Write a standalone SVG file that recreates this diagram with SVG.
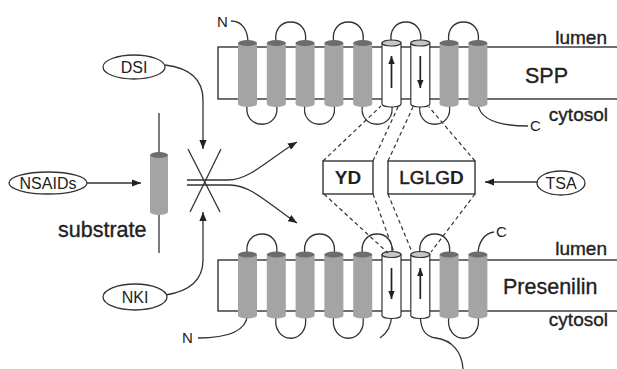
<svg xmlns="http://www.w3.org/2000/svg" xmlns:xlink="http://www.w3.org/1999/xlink" width="617" height="369" viewBox="0 0 617 369">
<style>
text{font-family:"Liberation Sans",Arial,sans-serif;fill:#222}
.big{font-size:21.5px;stroke:#222;stroke-width:0.35}
.mem{font-size:19px;stroke:#222;stroke-width:0.35}
.sm{font-size:16px}
.term{font-size:15px}
.box{fill:#fff;stroke:#333;stroke-width:1.4}
.ln{fill:none;stroke:#333;stroke-width:1.3}
.arr{fill:none;stroke:#222;stroke-width:1.7}
.dash{fill:none;stroke:#333;stroke-width:1.2;stroke-dasharray:4 3}
.ell{fill:#fff;stroke:#333;stroke-width:1.3}
.hg{fill:#a4a4a4}
.hcap{fill:#6c6c6c}
.hw{fill:#fff;stroke:#333;stroke-width:1.2}
.hwcap{fill:#c6c6c6;stroke:#333;stroke-width:1.2}
</style>
<defs>
<marker id="ah" viewBox="0 0 10 8" refX="10" refY="4" markerWidth="9" markerHeight="7.2" markerUnits="userSpaceOnUse" orient="auto"><path d="M0,0 L10,4 L0,8 Z" fill="#222"/></marker>
<marker id="ahs" viewBox="0 0 10 8" refX="10" refY="4" markerWidth="8" markerHeight="6.4" markerUnits="userSpaceOnUse" orient="auto"><path d="M0,0 L10,4 L0,8 Z" fill="#222"/></marker>
<g id="hx"><path class="hg" d="M-9.5,0 L-9.5,61 A9.5,3 0 0 0 9.5,61 L9.5,0 Z"/><ellipse class="hcap" cx="0" cy="0" rx="9.5" ry="3"/></g>
<g id="hxw"><path class="hw" d="M-9.5,0 L-9.5,61 A9.5,3 0 0 0 9.5,61 L9.5,0 Z"/><ellipse class="hwcap" cx="0" cy="0" rx="9.5" ry="3"/></g>
</defs>
<rect width="617" height="369" fill="#fff"/>

<g id="spp">
<rect class="box" x="218" y="47" width="420" height="52"/>
<path class="ln" d="M231,21 C242,21 248,30 248,43"/>
<path class="ln" d="M276.3,43 C270.3,15 311.1,15 305.1,43"/>
<path class="ln" d="M333.9,43 C327.9,15 368.7,15 362.7,43"/>
<path class="ln" d="M391.5,43 C385.5,15 426.3,15 420.3,43"/>
<path class="ln" d="M449.1,43 C443.1,15 483.9,15 477.9,43"/>
<path class="ln" d="M247.5,104 C241.5,131 282.3,131 276.3,104"/>
<path class="ln" d="M305.1,104 C299.1,131 339.9,131 333.9,104"/>
<path class="ln" d="M362.7,104 C356.7,131 397.5,131 391.5,104"/>
<path class="ln" d="M420.3,104 C414.3,131 455.1,131 449.1,104"/>
<path class="ln" d="M477.9,104 C480,120 500,126 528,126"/>
<use xlink:href="#hx" x="247.5" y="43"/>
<use xlink:href="#hx" x="276.3" y="43"/>
<use xlink:href="#hx" x="305.1" y="43"/>
<use xlink:href="#hx" x="333.9" y="43"/>
<use xlink:href="#hx" x="362.7" y="43"/>
<use xlink:href="#hxw" x="391.5" y="43"/>
<use xlink:href="#hxw" x="420.3" y="43"/>
<use xlink:href="#hx" x="449.1" y="43"/>
<use xlink:href="#hx" x="477.9" y="43"/>
<line class="arr" x1="391.5" y1="88" x2="391.5" y2="56" marker-end="url(#ahs)"/>
<line class="arr" x1="420.3" y1="56" x2="420.3" y2="88" marker-end="url(#ahs)"/>
<text class="term" x="217" y="27">N</text>
<text class="term" x="530" y="131">C</text>
<text class="mem" x="607" y="44" text-anchor="end">lumen</text>
<text class="big" x="525" y="83">SPP</text>
<text class="mem" x="608" y="121" text-anchor="end">cytosol</text>
</g>

<g id="presenilin">
<rect class="box" x="218" y="260" width="420" height="51"/>
<path class="ln" d="M247.5,255 C241.5,227 282.3,227 276.3,255"/>
<path class="ln" d="M305.1,255 C299.1,227 339.9,227 333.9,255"/>
<path class="ln" d="M362.7,255 C356.7,227 397.5,227 391.5,255"/>
<path class="ln" d="M420.3,255 C414.3,227 455.1,227 449.1,255"/>
<path class="ln" d="M477.9,255 C478,242 485,233 494,232"/>
<path class="ln" d="M276.3,315 C270.3,346 311.1,346 305.1,315"/>
<path class="ln" d="M333.9,315 C327.9,346 368.7,346 362.7,315"/>
<path class="ln" d="M449.1,315 C443.1,346 483.9,346 477.9,315"/>
<path class="ln" d="M247.5,315 C246,332 225,338 198,338"/>
<path class="ln" d="M391.5,315 C391.5,328 386,334 380,338"/>
<path class="ln" d="M420.3,315 C420.3,332 427,337 436,338 C452,340 462,352 463,369"/>
<use xlink:href="#hx" x="247.5" y="254.5"/>
<use xlink:href="#hx" x="276.3" y="254.5"/>
<use xlink:href="#hx" x="305.1" y="254.5"/>
<use xlink:href="#hx" x="333.9" y="254.5"/>
<use xlink:href="#hx" x="362.7" y="254.5"/>
<use xlink:href="#hxw" x="391.5" y="254.5"/>
<use xlink:href="#hxw" x="420.3" y="254.5"/>
<use xlink:href="#hx" x="449.1" y="254.5"/>
<use xlink:href="#hx" x="477.9" y="254.5"/>
<line class="arr" x1="391.5" y1="268" x2="391.5" y2="299" marker-end="url(#ahs)"/>
<line class="arr" x1="420.3" y1="299" x2="420.3" y2="268" marker-end="url(#ahs)"/>
<text class="term" x="496" y="237">C</text>
<text class="term" x="182" y="343">N</text>
<text class="mem" x="607" y="255" text-anchor="end">lumen</text>
<text class="big" x="503" y="294">Presenilin</text>
<text class="mem" x="608" y="326" text-anchor="end">cytosol</text>
</g>

<g id="substrate">
<line class="ln" x1="159" y1="113" x2="159" y2="155"/>
<line class="ln" x1="159" y1="212" x2="159" y2="253"/>
<path class="hg" d="M150,155 L150,212 A9,3 0 0 0 168,212 L168,155 Z"/>
<ellipse class="hcap" cx="159" cy="155" rx="9" ry="3"/>
<text class="big" x="58" y="237">substrate</text>
</g>

<g id="dsi"><ellipse class="ell" cx="134" cy="67" rx="31" ry="12"/><text class="sm" x="134" y="72.5" text-anchor="middle">DSI</text></g>
<g id="nsaids"><ellipse class="ell" cx="48" cy="183" rx="39" ry="11"/><text class="sm" x="48" y="188.5" text-anchor="middle">NSAIDs</text></g>
<g id="nki"><ellipse class="ell" cx="135" cy="297" rx="32" ry="13"/><text class="sm" x="135" y="302.5" text-anchor="middle">NKI</text></g>
<g id="tsa"><ellipse class="ell" cx="561" cy="183" rx="24" ry="12"/><text class="sm" x="561" y="188.5" text-anchor="middle">TSA</text></g>

<g id="yd"><rect class="box" x="323" y="161" width="50" height="33"/><text x="348" y="184" text-anchor="middle" style="font-size:19px;font-weight:bold">YD</text></g>
<g id="lglgd"><rect class="box" x="388" y="161" width="87" height="33"/><text x="431.5" y="184" text-anchor="middle" style="font-size:19px"><tspan style="stroke:#222;stroke-width:0.5">LGLG</tspan><tspan style="font-weight:bold">D</tspan></text></g>

<g id="connectors">
<line class="ln" x1="87" y1="183" x2="141" y2="183" marker-end="url(#ah)"/>
<path class="ln" d="M165,65 C190,68 203,80 203,100 L203,149" marker-end="url(#ah)"/>
<path class="ln" d="M166,295 C190,291 203,280 203,260 L203,212" marker-end="url(#ah)"/>
<line class="ln" x1="538" y1="182" x2="485" y2="182" marker-end="url(#ah)"/>
<line class="ln" x1="188" y1="149" x2="220" y2="212"/>
<line class="ln" x1="221" y1="149" x2="190" y2="212"/>
<path class="ln" d="M187,180 L228,180 C250,180 270,158 297,142" marker-end="url(#ah)"/>
<path class="ln" d="M187,185 L230,185 C252,185 272,207 297,223" marker-end="url(#ah)"/>
<line class="dash" x1="323" y1="161" x2="381" y2="106"/>
<line class="dash" x1="373" y1="161" x2="398" y2="107"/>
<line class="dash" x1="388" y1="161" x2="413" y2="107"/>
<line class="dash" x1="475" y1="161" x2="429" y2="107"/>
<line class="dash" x1="324" y1="194" x2="388" y2="253"/>
<line class="dash" x1="373" y1="194" x2="394" y2="252"/>
<line class="dash" x1="388" y1="194" x2="412" y2="252"/>
<line class="dash" x1="475" y1="194" x2="431" y2="252"/>
</g>
</svg>
